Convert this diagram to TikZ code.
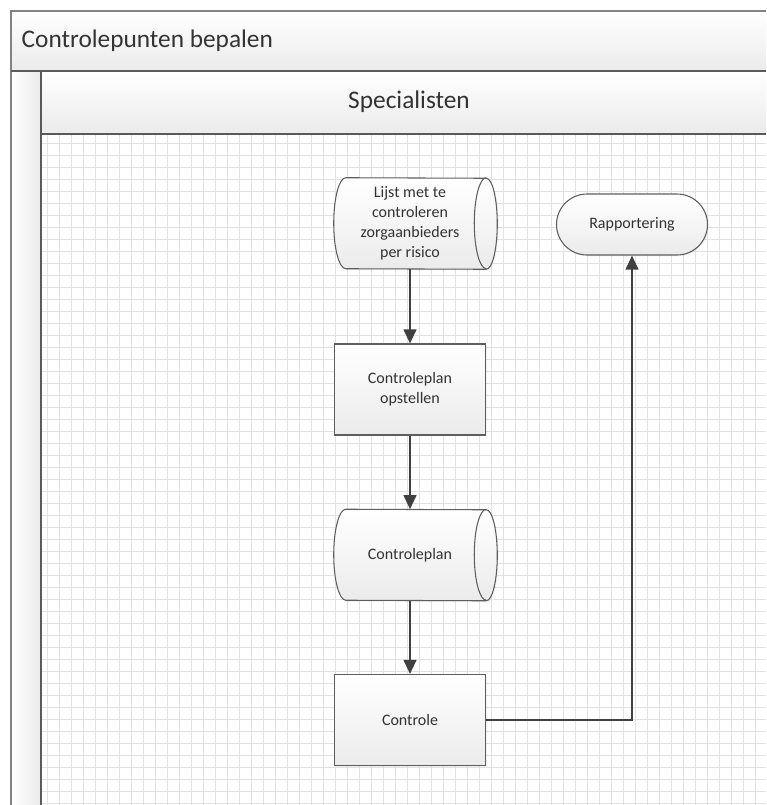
\documentclass[tikz,border=0pt]{standalone}
\usepackage{fontspec}
\setmainfont{Carlito}
\usetikzlibrary{arrows.meta,shapes.misc,shadows,calc,backgrounds}
\definecolor{lijn}{HTML}{404040}
\definecolor{rand}{HTML}{5E5E5E}
\definecolor{tekst}{HTML}{333333}
\definecolor{raster}{HTML}{E2E2E2}
\definecolor{kader}{HTML}{828282}
\definecolor{deler}{HTML}{5A5A5A}
\definecolor{vlak}{HTML}{EBEBEB}
\newcommand\opslagvorm[1]{%
  \draw[opslagrand] ($(#1.north west)+(12,0)$) arc[start angle=270, end angle=90, x radius=12, y radius=45.5]
    -- (#1.south east) arc[start angle=90, end angle=-90, x radius=11, y radius=45.5] -- cycle;
  \draw[rand, line width=0.8pt] (#1.north east) arc[start angle=270, end angle=90, x radius=12, y radius=45.5];}
\begin{document}
\begin{tikzpicture}[x=0.75pt, y=-0.75pt, >={Triangle[length=10.5pt,width=9.5pt]},
  tekstje/.style={text=tekst, font=\fontsize{12}{15}\selectfont, align=center, inner sep=0pt},
  vorm/.style={tekstje, draw=rand, line width=0.8pt, top color=white, bottom color=vlak,
    drop shadow={opacity=0.1, shadow xshift=1pt, shadow yshift=-1pt}},
  proces/.style={vorm, rectangle, minimum width=113.25pt, minimum height=68.25pt},
  opslag/.style={tekstje, rectangle, minimum width=114pt, minimum height=68.25pt},
  opslagrand/.style={draw=rand, line width=0.8pt, top color=white, bottom color=vlak,
    drop shadow={opacity=0.1, shadow xshift=1pt, shadow yshift=-1pt}},
  eind/.style={vorm, rounded rectangle, minimum width=113.25pt, minimum height=45.75pt},
  flow/.style={->, draw=lijn, line width=1.5pt}]
  \useasboundingbox (0,0) rectangle (766,805);
  \begin{scope}[on background layer]
    \shade[top color=white, bottom color=vlak] (11,11) rectangle (766,71);
    \shade[left color=white, right color=vlak] (11,71) rectangle (41,805);
    \shade[top color=white, bottom color=vlak] (41,71) rectangle (766,134);
    \begin{scope}
      \clip (41,134) rectangle (766,805);
      \foreach \k in {3,...,63} \draw[raster, line width=0.75pt] (11.5+12*\k,134) -- (11.5+12*\k,805);
      \foreach \k in {11,...,66} \draw[raster, line width=0.75pt] (41,11.5+12*\k) -- (766,11.5+12*\k);
    \end{scope}
  \end{scope}
  \draw[kader, line width=1.5pt] (766,11) -- (11,11) -- (11,805);
  \draw[deler, line width=1.1pt] (11,71) -- (766,71);
  \draw[deler, line width=1.1pt] (41,71) -- (41,805);
  \draw[deler, line width=1.1pt] (41,134) -- (766,134);
  \node[anchor=west, text=tekst, font=\fontsize{19}{22}\selectfont] (titel) at (17,41) {Controlepunten bepalen};
  \node[text=tekst, font=\fontsize{19}{22}\selectfont] (baan) at (409,102) {Specialisten};
  \node[opslag] (lijst) at (410,223.5) {Lijst met te\\controleren\\zorgaanbieders\\per risico};
  \node[proces] (opstellen) at (410,389.5) {Controleplan\\opstellen};
  \node[opslag] (plan) at (410,555) {Controleplan};
  \node[proces] (controle) at (410,720) {Controle};
  \node[eind] (rapport) at (632,224.5) {Rapportering};
  \begin{scope}[on background layer]
    \opslagvorm{lijst}
    \opslagvorm{plan}
  \end{scope}
  \draw[flow] (lijst) -- (opstellen);
  \draw[flow] (opstellen) -- (plan);
  \draw[flow] (plan) -- (controle);
  \draw[flow] (controle.east) -| (rapport.south);
\end{tikzpicture}
\end{document}
